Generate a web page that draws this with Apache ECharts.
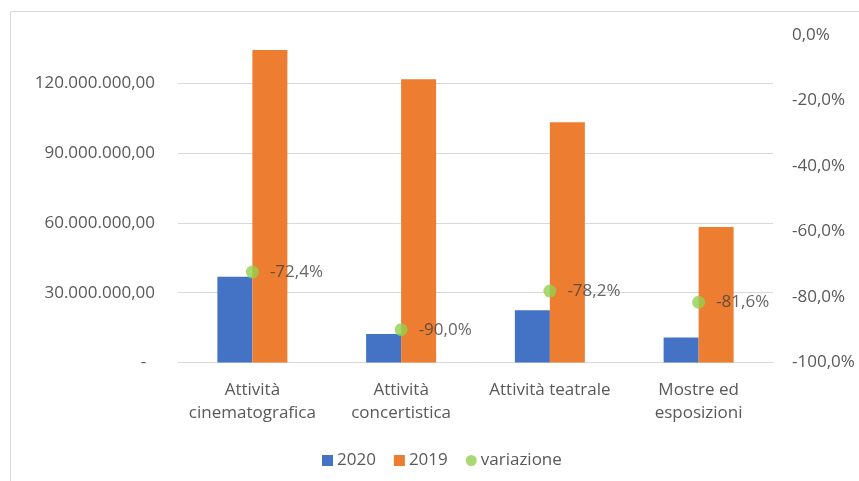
<!DOCTYPE html>
<html>
<head>
<meta charset="utf-8">
<script src="https://cdn.jsdelivr.net/npm/echarts@6/dist/echarts.min.js"></script>
<style>
  html, body { margin: 0; padding: 0; background: #fff; }
  #chart { width: 859px; height: 481px; }
</style>
</head>
<body>
<div id="chart"></div>
<script>
  // dati
  var categories = ['Attività\ncinematografica', 'Attività\nconcertistica', 'Attività teatrale', 'Mostre ed\nesposizioni']
  var values2020 = [36900000, 12200000, 22500000, 10700000]
  var values2019 = [134300000, 121800000, 103300000, 58300000]
  var variazione = [-0.724, -0.900, -0.782, -0.816]

  var font = 'Open Sans'
  var grigio = '#595959'

  function fmtEuro(v) {
    if (v === 0) return '-  '
    var s = Math.round(v).toString().replace(/\B(?=(\d{3})+(?!\d))/g, '.')
    return s + ',00'
  }
  function fmtPerc(v) {
    return (v * 100).toFixed(1).replace('.', ',') + '%'
  }

  var chart = echarts.init(document.getElementById('chart'))
  chart.setOption({
    animation: false,
    backgroundColor: '#fff',
    textStyle: { fontFamily: font },
    graphic: [{
      type: 'rect',
      shape: { x: 10.5, y: 11.5, width: 900, height: 500 },
      style: { fill: 'none', stroke: '#d9d9d9', lineWidth: 1 },
      silent: true
    }],
    grid: { left: 178, right: 86, top: 35, bottom: 118.5 },
    legend: {
      left: 317,
      top: 447,
      itemWidth: 11,
      itemHeight: 11,
      itemGap: 18,
      textStyle: { fontFamily: font, fontSize: 17, color: grigio, padding: [0, 0, 0, -1] },
      data: [
        { name: '2020', icon: 'rect' },
        { name: '2019', icon: 'rect' },
        { name: 'variazione', icon: 'circle' }
      ]
    },
    xAxis: {
      type: 'category',
      data: categories,
      axisTick: { show: false },
      axisLine: { lineStyle: { color: '#d9d9d9', width: 1 } },
      axisLabel: { fontFamily: font, fontSize: 17, color: grigio, lineHeight: 23, margin: 16, interval: 0 }
    },
    yAxis: [{
      type: 'value',
      min: 0,
      max: 140800000,
      interval: 30000000,
      axisLine: { show: false },
      axisTick: { show: false },
      splitLine: { showMaxLine: false, lineStyle: { color: '#d9d9d9', width: 1 } },
      axisLabel: { fontFamily: font, fontSize: 17, color: grigio, margin: 23, showMaxLabel: false, formatter: fmtEuro }
    }, {
      type: 'value',
      min: -1,
      max: 0,
      interval: 0.2,
      position: 'right',
      axisLine: { show: false },
      axisTick: { show: false },
      splitLine: { show: false },
      axisLabel: { fontFamily: font, fontSize: 17, color: grigio, margin: 19, formatter: fmtPerc }
    }],
    series: [{
      name: '2020',
      type: 'bar',
      data: values2020,
      barWidth: 35,
      barGap: '0%',
      itemStyle: { color: '#4472C4' }
    }, {
      name: '2019',
      type: 'bar',
      data: values2019,
      barWidth: 35,
      itemStyle: { color: '#ED7D31' }
    }, {
      name: 'variazione',
      type: 'scatter',
      yAxisIndex: 1,
      data: variazione,
      symbolSize: 13,
      z: 5,
      itemStyle: { color: '#92D050' },
      label: {
        show: true,
        position: 'right',
        distance: 11,
        fontFamily: font,
        fontSize: 17,
        color: '#404040',
        formatter: function (p) { return fmtPerc(p.value) }
      }
    }]
  })
</script>
</body>
</html>
